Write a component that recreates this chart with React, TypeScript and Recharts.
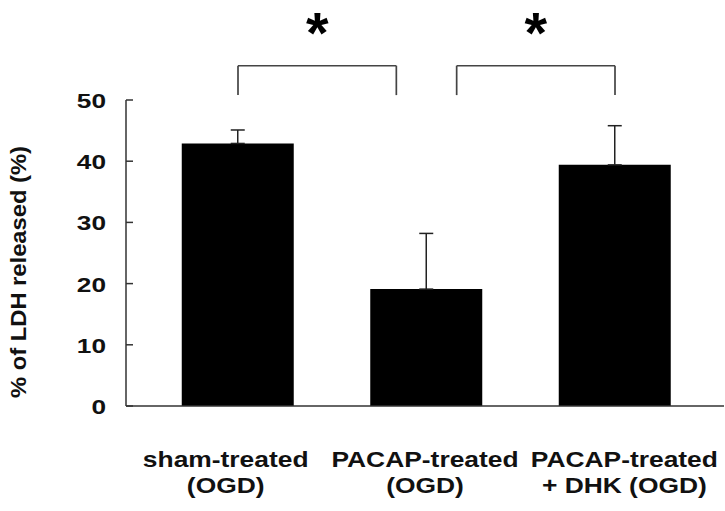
import React from 'react'
import { Bar, BarChart, ErrorBar, Line, ReferenceDot, ReferenceLine, XAxis, YAxis } from 'recharts'

// groups, mean % LDH released and upper error (SEM)
const groups = ['sham-treated (OGD)', 'PACAP-treated (OGD)', 'PACAP-treated + DHK (OGD)']
const groupLines = [['sham-treated', '(OGD)'], ['PACAP-treated', '(OGD)'], ['PACAP-treated', '+ DHK (OGD)']]
const ldhMean = [42.9, 19.1, 39.4]
const ldhErr = [2.2, 9.1, 6.4]
const yTicks = [0, 10, 20, 30, 40, 50]

// significance brackets, x in category index units, y in % units
const bracketFrom = [0, 1.16]
const bracketTo = [0.84, 2]
const bracketTop = 55.6
const bracketFoot = 50.8
const starY = 62.6

const data = groups.map((g, i) => ({ group: g, idx: i, value: ldhMean[i], err: [0, ldhErr[i]] }))

const FONT = '"Liberation Sans", Arial, sans-serif'

const YTick = (props: any) => {
  const { x, y, payload } = props
  return (
    <g>
      <line x1={x} x2={x + 7} y1={y} y2={y} stroke="#333" strokeWidth={1.5} />
      <g transform={`translate(${x - 20},${y + 8}) scale(1.25,1)`}>
        <text textAnchor="end" fontSize={21} fontWeight="bold" fontFamily={FONT} fill="#111">
          {payload.value}
        </text>
      </g>
    </g>
  )
}

const XTick = (props: any) => {
  const { x, y, index } = props
  const lines = groupLines[index] || []
  return (
    <g>
      {lines.map((t, k) => (
        <g key={k} transform={`translate(${x},${y + 61 + k * 26}) scale(1.2,1)`}>
          <text textAnchor="middle" fontSize={22} fontWeight="bold" fontFamily={FONT} fill="#111">
            {t}
          </text>
        </g>
      ))}
    </g>
  )
}

const YLabel = (props: any) => {
  const { viewBox } = props
  const cx = viewBox.x + 26
  const cy = viewBox.y + viewBox.height / 2 + 19
  return (
    <g transform={`translate(${cx},${cy}) rotate(-90) scale(1.08,1)`}>
      <text textAnchor="middle" fontSize={22} fontWeight="bold" fontFamily={FONT} fill="#111">
        % of LDH released (%)
      </text>
    </g>
  )
}

const Star = (props: any) => (
  <text x={props.cx} y={props.cy + 30} textAnchor="middle" fontSize={58} fontWeight="bold" fontFamily={FONT} fill="#000">
    *
  </text>
)

const App = () => {
  return (
    <div style={{ position: 'absolute', left: 0, top: 0, background: '#fff' }}>
      <BarChart width={725} height={511} data={data} margin={{ top: 100, right: 1, bottom: 0, left: 0 }}>
        <XAxis
          xAxisId="labels"
          dataKey="group"
          height={105}
          axisLine={{ stroke: '#333', strokeWidth: 1.5 }}
          tickLine={false}
          tickSize={0}
          tickMargin={0}
          interval={0}
          tick={<XTick />}
        />
        <XAxis xAxisId="bars" dataKey="group" hide height={0} padding={{ left: 17.75, right: 14.75 }} />
        <XAxis
          xAxisId="num"
          dataKey="idx"
          type="number"
          hide
          height={0}
          padding={{ left: 0, right: 0 }}
          domain={[-0.5 - 17.75 / 188.5, 2.5 + 14.75 / 188.5]}
          allowDataOverflow
        />
        <YAxis
          width={126}
          domain={[0, 50]}
          ticks={yTicks}
          interval={0}
          axisLine={{ stroke: '#333', strokeWidth: 1.5 }}
          tickLine={false}
          tickSize={0}
          tickMargin={0}
          tick={<YTick />}
          label={{ content: <YLabel /> }}
        />
        <Bar xAxisId="bars" dataKey="value" fill="#000" barSize={112} isAnimationActive={false}>
          <ErrorBar dataKey="err" direction="y" width={7} stroke="#222" strokeWidth={1.5} isAnimationActive={false} />
        </Bar>
        <Line xAxisId="labels" dataKey="value" stroke="none" dot={false} activeDot={false} isAnimationActive={false} />
        <Line xAxisId="num" dataKey="value" stroke="none" dot={false} activeDot={false} isAnimationActive={false} />
        {bracketFrom.map((x0, i) => (
          <ReferenceLine
            key={'b' + i}
            xAxisId="num"
            ifOverflow="visible"
            stroke="#444"
            strokeWidth={1.7}
            segment={[
              { x: x0, y: bracketFoot },
              { x: x0, y: bracketTop },
            ]}
          />
        ))}
        {bracketFrom.map((x0, i) => (
          <ReferenceLine
            key={'t' + i}
            xAxisId="num"
            ifOverflow="visible"
            stroke="#444"
            strokeWidth={1.7}
            segment={[
              { x: x0, y: bracketTop },
              { x: bracketTo[i], y: bracketTop },
            ]}
          />
        ))}
        {bracketTo.map((x1, i) => (
          <ReferenceLine
            key={'e' + i}
            xAxisId="num"
            ifOverflow="visible"
            stroke="#444"
            strokeWidth={1.7}
            segment={[
              { x: x1, y: bracketFoot },
              { x: x1, y: bracketTop },
            ]}
          />
        ))}
        {bracketFrom.map((x0, i) => (
          <ReferenceDot
            key={'s' + i}
            xAxisId="num"
            x={(x0 + bracketTo[i]) / 2}
            y={starY}
            ifOverflow="visible"
            shape={<Star />}
          />
        ))}
      </BarChart>
    </div>
  )
}

export default App
